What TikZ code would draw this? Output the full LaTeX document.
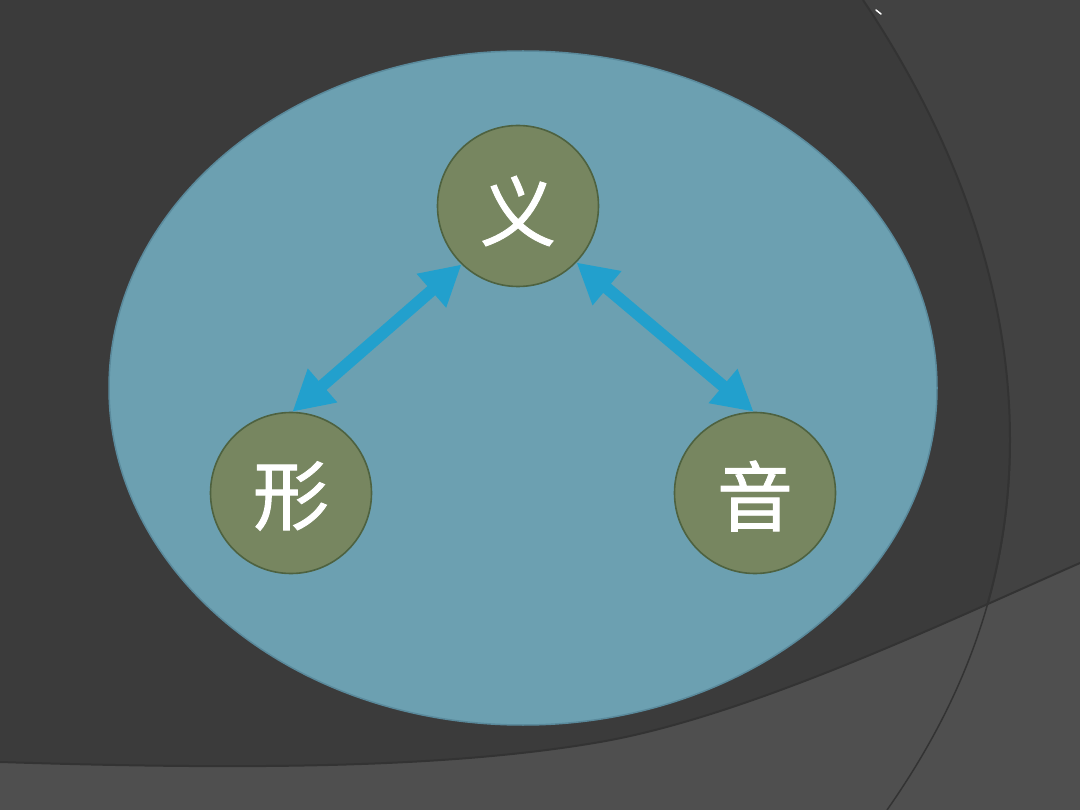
\documentclass[tikz,border=0pt]{standalone}
\usepackage{fontspec}
\newfontfamily\cjk[FakeBold=1.2]{Noto Sans CJK SC}
\usetikzlibrary{arrows.meta}
\definecolor{bgmain}{HTML}{3B3B3B}
\definecolor{bgright}{HTML}{424242}
\definecolor{bgband}{HTML}{4F4F4F}
\definecolor{arcline}{HTML}{333333}
\definecolor{ellfill}{HTML}{6CA0B1}
\definecolor{ellline}{HTML}{5A8A9C}
\definecolor{circfill}{HTML}{778660}
\definecolor{circline}{HTML}{4E6240}
\definecolor{arrcol}{HTML}{22A0CD}
\newcommand{\lowerglyph}[2]{\raisebox{-#1}[\height][\depth]{#2}}
\tikzset{
  hanzi/.style={circle, minimum size=161pt, inner sep=0pt, draw=circline, line width=1.6pt,
    fill=circfill, text=white, font=\cjk\fontsize{76}{76}\selectfont},
  dblarrow/.style={draw=arrcol, line width=12pt,
    {Triangle[length=40pt,width=42pt]}-{Triangle[length=40pt,width=42pt]}}
}
\begin{document}
\begin{tikzpicture}[x=1pt,y=-1pt]
\useasboundingbox (0,0) rectangle (1080,810);
% background
\fill[bgmain] (0,0) rectangle (1080,810);
\fill[bgright] (863,0) .. controls (950,130) and (1010,280) .. (1010,440)
  .. controls (1010,600) and (950,720) .. (887,810) -- (1080,810) -- (1080,0) -- cycle;
\draw[arcline, line width=2pt] (863,0) .. controls (950,130) and (1010,280) .. (1010,440)
  .. controls (1010,600) and (950,720) .. (887,810);
\fill[bgband] (0,762) .. controls (250,770) and (450,768) .. (600,742)
  .. controls (750,716) and (950,620) .. (1080,563) -- (1080,810) -- (0,810) -- cycle;
\draw[arcline, line width=2pt] (0,762) .. controls (250,770) and (450,768) .. (600,742)
  .. controls (750,716) and (950,620) .. (1080,563);
\draw[color=black!35!bgband, line width=1.5pt] (1010,440)
  .. controls (1010,600) and (950,720) .. (887,810);
\draw[white, line width=1.5pt, line cap=round] (876,10) -- (881,14);
% ellipse
\draw[fill=ellfill, draw=ellline, line width=1.5pt] (523,388) ellipse [x radius=414pt, y radius=337pt];
% nodes
\node[hanzi] (yi) at (518,206) {\lowerglyph{5pt}{义}};
\node[hanzi] (xing) at (291,493) {\lowerglyph{3pt}{形}};
\node[hanzi] (yin) at (755,493) {\lowerglyph{3pt}{音}};
% connectors
\draw[dblarrow] (yi.226) -- (xing.89);
\draw[dblarrow] (yi.316) -- (yin.91);
\end{tikzpicture}
\end{document}
